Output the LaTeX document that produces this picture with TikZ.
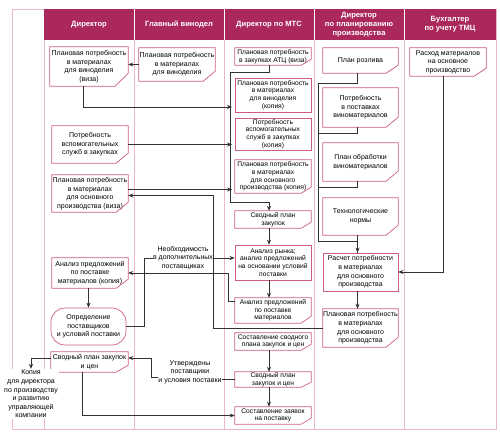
\documentclass[tikz,border=0pt]{standalone}
\usepackage{fontspec}
\setmainfont{Liberation Sans}
\usetikzlibrary{arrows.meta,calc}
\definecolor{hdr}{RGB}{170,40,92}
\definecolor{boxc}{RGB}{204,92,135}
\definecolor{gridc}{RGB}{236,182,202}
\definecolor{linec}{RGB}{50,50,50}
\newcommand{\myfs}{\fontsize{7}{8.6}\selectfont}
\newcommand{\myfst}{\fontsize{6.7}{7.6}\selectfont}
\newcommand{\myhfs}{\fontsize{7.6}{9}\selectfont\bfseries}
\tikzset{
  txt/.style={inner sep=0pt, align=center, font=\myfs},
  boxline/.style={draw=boxc, line width=0.7pt},
  rbox/.style={txt, draw=boxc, line width=0.7pt},
  conn/.style={draw=linec, line width=0.65pt},
  arr/.style={conn, -{Stealth[length=5pt,width=4pt]}},
  hd/.style={text=white, font=\myhfs, align=center, inner sep=0pt},
}
\newcommand{\docnode}[9][]{%
  \node[txt, minimum width=#5pt, minimum height=#6pt, #1] (#2) at (#3,#4) {#9};
  \draw[boxline] (#2.north west) -- (#2.north east) -- ([yshift=#8pt]#2.south east) -- ([xshift=-#7pt]#2.south east) -- (#2.south west) -- cycle;}
\begin{document}
\begin{tikzpicture}[x=1pt,y=-1pt]
\useasboundingbox (0,0) rectangle (500,438);
% frame and header
\draw[gridc, line width=0.6pt] (12,9) rectangle (496,429);
\fill[hdr] (44,9) rectangle (496,40);
\draw[gridc, line width=0.6pt] (44,40) -- (44,429);
\foreach \x in {134,224,314,404} {
  \draw[white, line width=0.8pt] (\x,9) -- (\x,40);
  \draw[gridc, line width=0.6pt] (\x,40) -- (\x,429);
}
\node[hd] (h1) at (89,24.5) {Директор};
\node[hd] (h2) at (179,24.5) {Главный винодел};
\node[hd] (h3) at (269,24.5) {Директор по МТС};
\node[hd] (h4) at (359,24.5) {Директор\\по планированию\\производства};
\node[hd] (h5) at (450,24.5) {Бухгалтер\\по учету ТМЦ};

% column Director
\docnode{D1}{89}{66.5}{78}{39}{13}{13}{Плановая потребность\\в материалах\\для виноделия\\(виза)}
\docnode{D2}{90}{144.5}{76}{37}{12}{10}{Потребность\\вспомогательных\\служб в закупках}
\docnode{D3}{90}{193.5}{76}{37}{12}{10}{Плановая потребность\\в материалах\\для основного\\производства (виза)}
\docnode{D4}{90}{273}{76}{30}{12}{9}{Анализ предложений\\по поставке\\материалов (копия)}
\node[rbox, rounded corners=14pt, minimum width=75pt, minimum height=37pt] (D5) at (88.5,326.5) {Определение\\поставщиков\\и условий поставки};
\docnode{D6}{89.5}{362}{77}{20}{12}{7}{Сводный план закупок\\и цен}
\node[txt, fill=white, inner sep=1pt] (copy) at (31,394) {Копия\\для директора\\по производству\\и развитию\\управляющей\\компании};

% column winemaker
\docnode{W1}{177}{64.5}{76}{33}{12}{10}{Плановая потребность\\в материалах\\для виноделия}
\node[txt] (need) at (183,258) {Необходимость\\в дополнительных\\поставщиках};
\node[txt] (appr) at (190,372) {Утверждены\\поставщики\\и условия поставки};

% column MTS
\docnode[font=\myfst]{M1}{273}{56.5}{76}{17}{10}{6}{Плановая потребность\\в закупках АТЦ (виза)}
\node[rbox, font=\myfst, minimum width=76pt, minimum height=34pt] (M2) at (273,95) {Плановая потребность\\в материалах\\для виноделия\\(копия)};
\node[rbox, font=\myfst, minimum width=76pt, minimum height=32pt] (M3) at (273,134) {Потребность\\вспомогательных\\служб в закупках\\(копия)};
\docnode[font=\myfst]{M4}{273}{176.5}{76}{33}{10}{6}{Плановая потребность\\в материалах\\для основного\\производства (копия)}
\docnode[font=\myfst]{Svod1}{273}{219.5}{76}{17}{10}{6}{Сводный план\\закупок}
\node[rbox, font=\myfst, minimum width=76pt, minimum height=35pt] (Anal) at (273,262.5) {Анализ рынка;\\анализ предложений\\на основании условий\\поставки};
\docnode[font=\myfst]{Anal2}{273}{310.5}{76}{25}{10}{7}{Анализ предложений\\по поставке\\материалов}
\docnode[font=\myfst]{Sost1}{273}{341.5}{76}{17}{10}{6}{Составление сводного\\плана закупок и цен}
\docnode[font=\myfst]{Svod2}{273}{379.5}{76}{15}{10}{5}{Сводный план\\закупок и цен}
\docnode[font=\myfst]{Sost2}{273}{415.5}{76}{17}{10}{6}{Составление заявок\\на поставку}

% column planning
\docnode{P1}{360.5}{60.5}{75}{25}{12}{8}{План розлива}
\docnode{P2}{360.5}{107.5}{75}{39}{12}{10}{Потребность\\в поставках\\виноматериалов}
\docnode{P3}{360.5}{162}{75}{38}{12}{10}{План обработки\\виноматериалов}
\docnode{P4}{360.5}{216.5}{75}{37}{12}{10}{Технологические\\нормы}
\node[rbox, minimum width=75pt, minimum height=38pt] (Calc) at (360.5,272) {Расчет потребности\\в материалах\\для основного\\производства};
\docnode{Plan}{360.5}{328}{75}{38}{12}{10}{Плановая потребность\\в материалах\\для основного\\производства}

% column accountant
\docnode{B1}{448}{62}{76}{28}{12}{8}{Расход материалов\\на основное\\производство}

% helper coordinates
\coordinate (tipx) at (232,0);
\coordinate (c1) at (230,72);
\coordinate (c2) at (230,202);
\coordinate (pc1) at (318,83);
\coordinate (pc2) at (318,241);
\coordinate (rvx) at (213,300);

% connectors
\draw[arr] (W1.west) -- (W1.west -| D1.east);
\draw[arr] ([xshift=-6pt]D1.south) |- ($(M2.west -| tipx)+(0,12)$);
\draw[arr] (D2.east) -- (D2.east -| tipx);
\draw[arr] ([yshift=4pt]D3.east) -- ([yshift=4pt]D3.east -| tipx);
\draw[arr] ([xshift=-4pt]M1.south) |- (c1) -- (c2) -| ([xshift=-4pt]Svod1.north);
\draw[arr] ([xshift=-4pt]Svod1.south) -- ([xshift=-4pt]Anal.north);
\draw[arr] ([xshift=-4pt]Anal.south) -- ([xshift=-4pt]Anal2.north);
\draw[arr] ([yshift=9pt]Anal2.west) -- ++(-6,0) |- (D4.east);
\draw[arr] ([xshift=-4pt]Sost1.south) -- ([xshift=-4pt]Svod2.north);
\draw[arr] ([xshift=-4pt]Svod2.south) -- ([xshift=-4pt]Sost2.north);
\draw[conn] (Svod2.west) -- (Svod2.west -| appr.east);
\draw[arr] ([yshift=-5pt]appr.west) -- ++(-7,0) |- ([yshift=4pt]D6.east);
\draw[arr] ([xshift=-7pt]D6.south) |- (Sost2.west);
\draw[arr] ([yshift=4pt]D6.west) -| (copy.north);
\draw[conn] (D5.east) -- ++(18,0) |- (need.west);
\draw[arr] (need.east) -- (need.east -| Anal.west);
\draw[arr] (D4.south -| D5.north) -- (D5.north);
\draw[conn] ([xshift=-3pt]P1.south) |- (pc1) -- (pc2) -| ([xshift=-3pt]Calc.north);
\draw[conn] ([xshift=-3pt]P2.south) |- ($(P2.south -| pc1)+(0,6)$);
\draw[conn] ([xshift=-3pt]P3.south) |- ($(P3.south -| pc1)+(0,6)$);
\draw[arr] ([xshift=-3pt]P4.south) -- ([xshift=-3pt]Calc.north);
\draw[arr] ([xshift=-3pt]Calc.south) -- ([xshift=-3pt]Plan.north);
\draw[arr] (Plan.west) -- (Plan.west -| rvx) |- ([yshift=-2pt]D3.east);
\draw[arr] ([xshift=-5pt]B1.south) |- (Calc.east);
\end{tikzpicture}
\end{document}
